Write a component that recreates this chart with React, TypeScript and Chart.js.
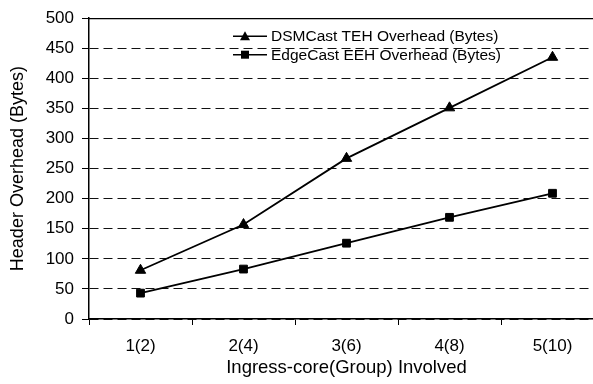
import React, { useEffect, useRef } from 'react';
import { Chart, registerables } from 'chart.js';

Chart.register(...registerables);

// Categories and measured header overheads
const categories = ['1(2)', '2(4)', '3(6)', '4(8)', '5(10)'];
const dsmcastTeh = [81, 157, 267, 351, 435];
const edgecastEeh = [43, 83, 126, 169, 209];
const seriesNames = ['DSMCast TEH Overhead (Bytes)', 'EdgeCast EEH Overhead (Bytes)'];
const yMin = 0;
const yMax = 500;
const yStep = 50;
const xTitle = 'Ingress-core(Group) Involved';
const yTitle = 'Header Overhead (Bytes)';

const FONT = "'Liberation Sans', Arial, sans-serif";

// Solid frame line along the top of the plot area
const topFrame = {
  id: 'topFrame',
  afterDatasetsDraw(chart: any) {
    const { ctx, chartArea } = chart;
    ctx.save();
    ctx.strokeStyle = '#000';
    ctx.lineWidth = 1.2;
    ctx.beginPath();
    ctx.moveTo(chartArea.left, chartArea.top + 0.5);
    ctx.lineTo(chartArea.right, chartArea.top + 0.5);
    ctx.stroke();
    ctx.restore();
  },
};

// Legend drawn inside the plot area: line - marker - line, then label
const insideLegend = {
  id: 'insideLegend',
  afterDraw(chart: any) {
    const { ctx, chartArea } = chart;
    const x0 = chartArea.left + 144;
    const lineLen = 34;
    const markerX = x0 + 12;
    ctx.save();
    chart.data.datasets.forEach((ds: any, i: number) => {
      const y = chartArea.top + 18 + i * 18.5;
      ctx.strokeStyle = '#000';
      ctx.lineWidth = 1.5;
      ctx.beginPath();
      ctx.moveTo(x0, y);
      ctx.lineTo(x0 + lineLen, y);
      ctx.stroke();
      ctx.fillStyle = '#000';
      ctx.beginPath();
      if (ds.pointStyle === 'triangle') {
        ctx.moveTo(markerX, y - 5);
        ctx.lineTo(markerX + 5, y + 4);
        ctx.lineTo(markerX - 5, y + 4);
        ctx.closePath();
      } else {
        ctx.rect(markerX - 4, y - 4, 8, 8);
      }
      ctx.fill();
      ctx.font = `15.5px ${FONT}`;
      ctx.textBaseline = 'middle';
      ctx.textAlign = 'left';
      ctx.fillText(ds.label, x0 + lineLen + 4, y + 1);
    });
    ctx.restore();
  },
};

export default function App() {
  const canvasRef = useRef<HTMLCanvasElement | null>(null);

  useEffect(() => {
    if (!canvasRef.current) return;
    const chart = new Chart(canvasRef.current, {
      type: 'line',
      data: {
        labels: categories,
        datasets: [
          {
            label: seriesNames[0],
            data: dsmcastTeh,
            borderColor: '#000',
            backgroundColor: '#000',
            borderWidth: 1.8,
            pointStyle: 'triangle',
            pointRadius: 6,
            pointBorderWidth: 1,
            tension: 0,
          },
          {
            label: seriesNames[1],
            data: edgecastEeh,
            borderColor: '#000',
            backgroundColor: '#000',
            borderWidth: 1.8,
            pointStyle: 'rect',
            pointRadius: 5.5,
            pointBorderWidth: 1,
            tension: 0,
          },
        ],
      },
      options: {
        responsive: false,
        animation: false,
        devicePixelRatio: 1,
        layout: { padding: { top: 15, left: 0, right: 0, bottom: 0 } },
        plugins: {
          legend: { display: false },
          tooltip: { enabled: false },
        },
        scales: {
          x: {
            type: 'category',
            offset: true,
            afterFit: (scale: any) => {
              scale.height = 65;
            },
            grid: {
              offset: true,
              drawOnChartArea: false,
              drawTicks: true,
              tickLength: 6,
              color: '#000',
            },
            border: { display: true, color: '#000', width: 1.5 },
            ticks: {
              color: '#000',
              padding: 11,
              font: { family: FONT, size: 17 },
              maxRotation: 0,
            },
            title: {
              display: true,
              text: xTitle,
              color: '#000',
              font: { family: FONT, size: 18.5 },
              padding: { top: 0, bottom: 5 },
            },
          },
          y: {
            min: yMin,
            max: yMax,
            afterFit: (scale: any) => {
              scale.width = 89;
            },
            grid: {
              drawOnChartArea: true,
              drawTicks: true,
              tickLength: 7,
              color: '#111',
              lineWidth: 1,
              tickColor: '#000',
            },
            border: { display: true, color: '#000', width: 1.5, dash: [9, 5] },
            ticks: {
              stepSize: yStep,
              color: '#000',
              padding: 8,
              font: { family: FONT, size: 17 },
            },
            title: {
              display: true,
              text: yTitle,
              color: '#000',
              font: { family: FONT, size: 18 },
              padding: { top: 7, bottom: 0 },
            },
          },
        },
      },
      plugins: [topFrame, insideLegend],
    });
    return () => chart.destroy();
  }, []);

  return (
    <div
      style={{
        position: 'fixed',
        left: 0,
        top: 0,
        width: 593,
        height: 384,
        overflow: 'hidden',
        background: '#fff',
      }}
    >
      <canvas ref={canvasRef} width={611} height={384} style={{ display: 'block' }} />
    </div>
  );
}
